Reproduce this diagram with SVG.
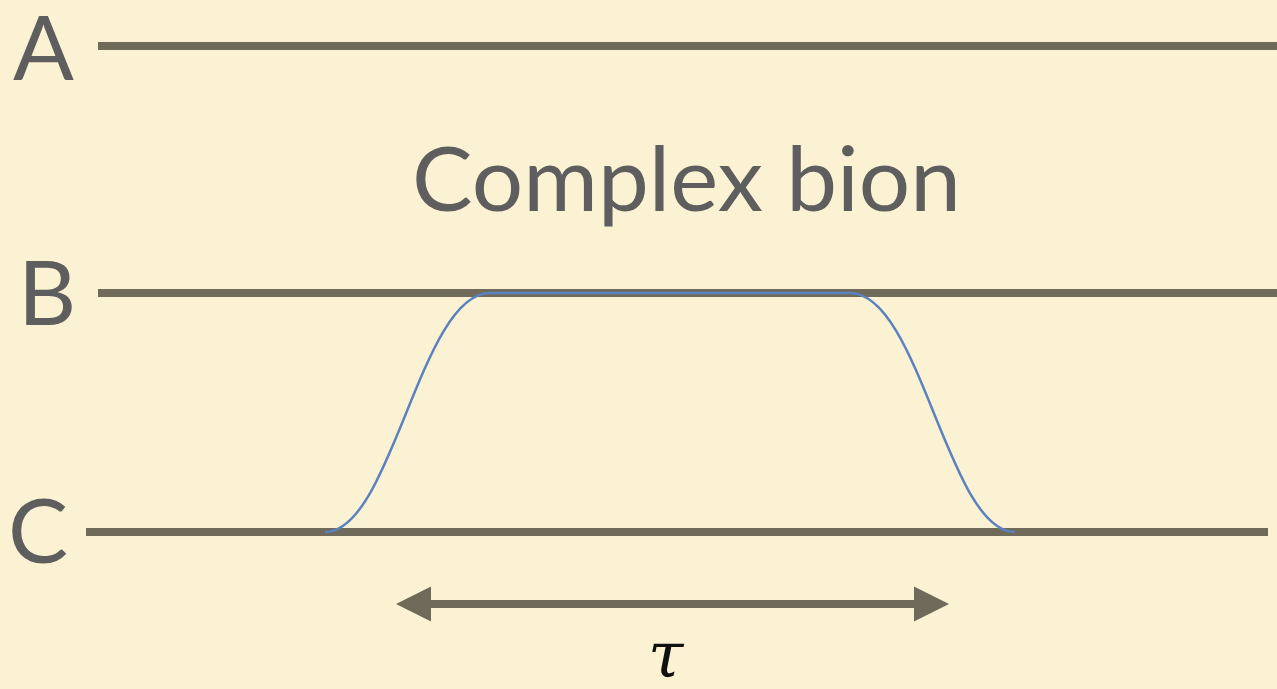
<svg xmlns="http://www.w3.org/2000/svg" width="1277" height="689" viewBox="0 0 1277 689">
<style>
.lbl{font-family:"Lato","Open Sans",sans-serif;fill:#5e5e5e;font-size:90px}
.rail{stroke:#6f6a5a;stroke-width:8;fill:none}
</style>
<defs>
<marker id="ah" viewBox="0 0 10 10" refX="0" refY="5" markerWidth="4.375" markerHeight="5" orient="auto-start-reverse" markerUnits="strokeWidth"><path d="M0 0 L10 5 L0 10 Z" fill="#6f6a5a"/></marker>
</defs>
<rect width="1277" height="689" fill="#fbf2d4"/>
<g id="labels">
<text class="lbl" x="13" y="80">A</text>
<text class="lbl" x="18" y="325">B</text>
<text class="lbl" x="8" y="563">C</text>
<text class="lbl" x="412" y="211" font-size="92" textLength="549" lengthAdjust="spacingAndGlyphs">Complex bion</text>
</g>
<g id="connectors">
<line class="rail" x1="98" y1="46" x2="1277" y2="46"/>
<line class="rail" x1="98" y1="293" x2="1277" y2="293"/>
<line class="rail" x1="86" y1="532" x2="1268" y2="532"/>
<path d="M325 532 C392 532 420 293 490 293 L850 293 C920 293 948 532 1015 532" fill="none" stroke="#5b82c0" stroke-width="2.5"/>
<line x1="431" y1="604" x2="914" y2="604" stroke="#6f6a5a" stroke-width="8" marker-start="url(#ah)" marker-end="url(#ah)"/>
</g>
<text x="648" y="677" font-family="DejaVu Serif,serif" font-style="italic" font-size="64" fill="#111">τ</text>
</svg>
